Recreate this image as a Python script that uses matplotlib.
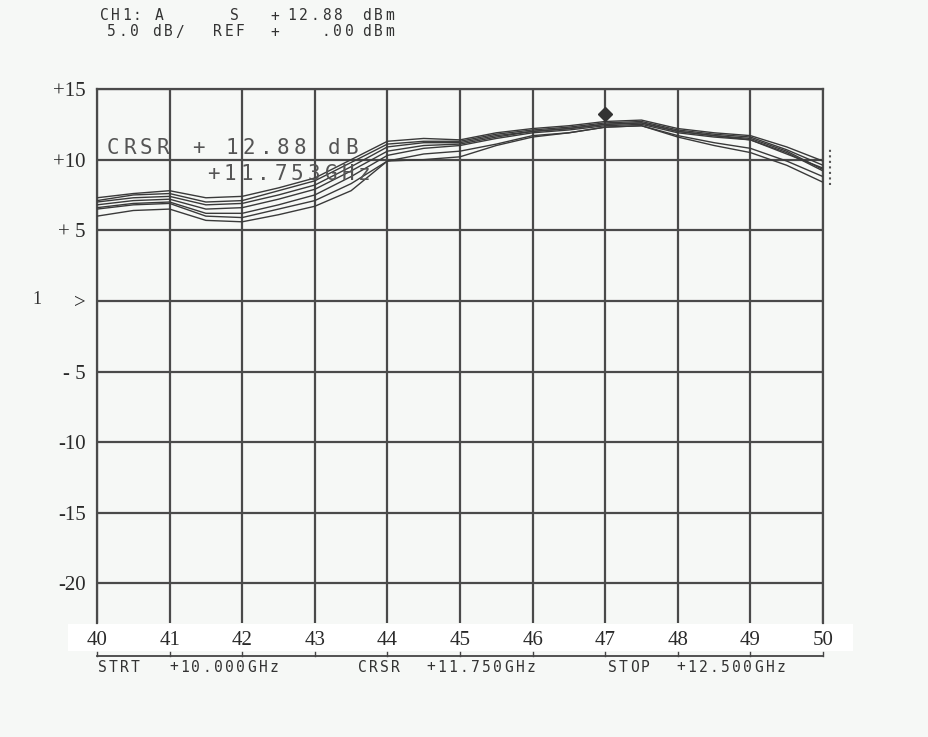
import numpy as np
import matplotlib
matplotlib.use('Agg')
import matplotlib.pyplot as plt
from matplotlib.patches import Rectangle

# frequency axis (grid units 40..50) and the seven swept traces in dB
freq = [40, 40.5, 41, 41.5, 42, 42.5, 43, 43.5, 44, 44.5, 45,
        45.5, 46, 46.5, 47, 47.5, 48, 48.5, 49, 49.5, 50]

trace_a = [7.3, 7.6, 7.8, 7.3, 7.4, 8.0, 8.7, 10.0, 11.3, 11.5, 11.4,
           11.9, 12.2, 12.4, 12.7, 12.8, 12.2, 11.9, 11.7, 10.9, 9.9]
trace_b = [7.1, 7.5, 7.6, 7.0, 7.1, 7.8, 8.5, 9.8, 11.1, 11.3, 11.3,
           11.8, 12.1, 12.3, 12.6, 12.7, 12.1, 11.8, 11.6, 10.7, 9.6]
trace_c = [7.0, 7.3, 7.4, 6.8, 6.9, 7.5, 8.2, 9.5, 10.9, 11.2, 11.2,
           11.7, 12.0, 12.2, 12.5, 12.6, 12.0, 11.7, 11.5, 10.6, 9.3]
trace_d = [6.8, 7.1, 7.2, 6.5, 6.6, 7.2, 7.9, 9.2, 10.6, 11.0, 11.1,
           11.6, 12.0, 12.2, 12.5, 12.6, 12.0, 11.7, 11.4, 10.5, 9.2]
trace_e = [6.6, 6.9, 7.0, 6.2, 6.2, 6.8, 7.5, 8.8, 10.3, 10.8, 11.0,
           11.5, 11.9, 12.1, 12.4, 12.5, 11.9, 11.6, 11.4, 10.4, 9.4]
trace_f = [6.5, 6.8, 6.9, 6.0, 5.9, 6.5, 7.1, 8.3, 9.9, 10.4, 10.6,
           11.1, 11.7, 11.9, 12.3, 12.4, 11.7, 11.2, 10.8, 9.9, 8.8]
trace_g = [6.0, 6.4, 6.5, 5.7, 5.6, 6.1, 6.7, 7.8, 9.9, 10.0, 10.2,
           11.0, 11.6, 11.9, 12.3, 12.4, 11.6, 11.0, 10.5, 9.6, 8.4]
traces = [trace_a, trace_b, trace_c, trace_d, trace_e, trace_f, trace_g]

cursor_x, cursor_y = 47, 13.2

xticks = list(range(40, 51))
yticks = [-20, -15, -10, -5, 0, 5, 10, 15]
ylabels = ['-20', '-15', '-10', '- 5', '>', '+ 5', '+10', '+15']

W, H = 929, 737
bg = '#f6f8f6'
ink = '#3a3a3a'

fig = plt.figure(figsize=(W / 100, H / 100), dpi=100, facecolor=bg)


def px(x, y):
    return x / W, 1 - y / H


def spaced(x, y, s, pitch, **kw):
    # terminal style text: one glyph per fixed cell
    for i, ch in enumerate(s):
        if ch != ' ':
            fig.text(*px(x + i * pitch, y), ch, va='center', ha='left', **kw)


# white band behind the x tick labels
fig.patches.append(Rectangle(px(68, 651), 785 / W, 27 / H, transform=fig.transFigure,
                             facecolor='white', edgecolor='none', zorder=0))

ax = fig.add_axes([97 / W, 1 - 623 / H, (823 - 97) / W, (623 - 89) / H])
ax.set_zorder(2)
ax.set_facecolor(bg)
ax.set_xlim(40, 50)
ax.set_ylim(-22.8, 15)

for s in ['top', 'left', 'right']:
    ax.spines[s].set_color('#4a4a4a')
    ax.spines[s].set_linewidth(1.6)
ax.spines['bottom'].set_visible(False)

ax.set_xticks(xticks)
ax.set_yticks(yticks)
ax.set_xticklabels([str(t) for t in xticks])
ax.set_yticklabels(ylabels)
ax.grid(True, color='#4a4a4a', linewidth=1.6)
ax.tick_params(length=0, labelsize=15, colors='#2a2a2a')
ax.tick_params(axis='x', pad=6)
ax.tick_params(axis='y', pad=8)
for lab in ax.get_xticklabels() + ax.get_yticklabels():
    lab.set_family('Liberation Serif')

for tr in traces:
    ax.plot(freq, tr, color=ink, linewidth=1.0, zorder=3)

ax.plot([cursor_x], [cursor_y], marker='D', markersize=7, color='#333333', zorder=4)

# small dotted marker at the right edge
ax.plot([50.1, 50.1], [8.2, 10.8], color='#555555', linewidth=1.5,
        linestyle=':', clip_on=False)

# bracket line under the tick labels
ax.plot([40, 50], [-25.16, -25.16], color='#444444', linewidth=1.3, clip_on=False)
for t in xticks:
    ax.plot([t, t], [-25.16, -24.85], color='#444444', linewidth=1.0, clip_on=False)

mono = dict(family='DejaVu Sans Mono', fontsize=10.5, color='#333333')
big = dict(family='DejaVu Sans Mono', fontsize=15, color='#555555')

# header
spaced(100, 16, 'CH1: A', 11, **mono)
spaced(230, 16, 'S', 11, **mono)
spaced(270, 16, '+', 11, **mono)
spaced(287, 16, '12.88', 11.6, **mono)
spaced(362, 16, 'dBm', 11.5, **mono)
spaced(107, 32, '5.0 dB/', 11.3, **mono)
spaced(213, 32, 'REF', 11.3, **mono)
spaced(270, 32, '+', 11, **mono)
spaced(322, 32, '.00', 11.3, **mono)
spaced(362, 32, 'dBm', 11.5, **mono)

# cursor readout
spaced(107, 148, 'CRSR', 16.5, **big)
spaced(192, 148, '+', 16.5, **big)
spaced(226, 148, '12.88', 17, **big)
spaced(328, 148, 'dB', 17, **big)
spaced(207, 174, '+11.753GHz', 16.8, **big)

# left channel number
fig.text(*px(37, 300), '1', family='Liberation Serif', fontsize=13, color='#333333',
         va='center', ha='center')

# footer
spaced(98, 667, 'STRT', 11, **mono)
spaced(169, 667, '+10.000GHz', 11.2, **mono)
spaced(358, 667, 'CRSR', 11, **mono)
spaced(426, 667, '+11.750GHz', 11.2, **mono)
spaced(608, 667, 'STOP', 11, **mono)
spaced(676, 667, '+12.500GHz', 11.2, **mono)

fig.savefig('out.png', dpi=100, facecolor=bg)
